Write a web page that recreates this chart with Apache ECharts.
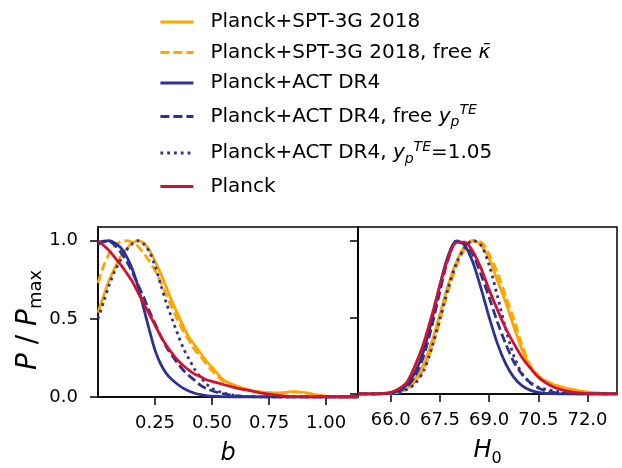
<!DOCTYPE html>
<html>
<head>
<meta charset="utf-8">
<script src="https://cdn.jsdelivr.net/npm/echarts@6/dist/echarts.min.js"></script>
<style>
  html, body { margin: 0; padding: 0; background: #fff; }
  #main { width: 622px; height: 468px; }
</style>
</head>
<body>
<div id="main"></div>
<script>
// series names (legend order)
const names = [
  'Planck+SPT-3G 2018',
  'Planck+SPT-3G 2018, free kappa',
  'Planck+ACT DR4',
  'Planck+ACT DR4, free yp',
  'Planck+ACT DR4, yp=1.05',
  'Planck'
]

// left panel: b
const bVals = [0, 0.025, 0.05, 0.075, 0.1, 0.125, 0.15, 0.175, 0.2, 0.225, 0.25, 0.275, 0.3, 0.325, 0.35, 0.375, 0.4, 0.425, 0.45, 0.475, 0.5, 0.55, 0.6, 0.65, 0.7, 0.75, 0.8, 0.85, 0.9, 0.95, 1.0, 1.05, 1.1, 1.14]
const bSpt      = [0.54, 0.65, 0.75, 0.83, 0.90, 0.95, 0.985, 1.0, 0.985, 0.94, 0.87, 0.79, 0.70, 0.61, 0.53, 0.45, 0.38, 0.33, 0.28, 0.23, 0.19, 0.11, 0.075, 0.05, 0.035, 0.027, 0.026, 0.034, 0.03, 0.017, 0.005, 0.001, 0, 0]
const bSptKappa = [0.73, 0.84, 0.92, 0.97, 0.995, 1.0, 0.99, 0.965, 0.92, 0.87, 0.81, 0.735, 0.65, 0.57, 0.49, 0.42, 0.36, 0.30, 0.26, 0.21, 0.17, 0.10, 0.068, 0.047, 0.034, 0.026, 0.025, 0.032, 0.028, 0.015, 0.004, 0.001, 0, 0]
const bAct      = [0.99, 0.998, 1.0, 0.985, 0.955, 0.90, 0.82, 0.71, 0.57, 0.43, 0.30, 0.21, 0.15, 0.11, 0.08, 0.055, 0.037, 0.024, 0.015, 0.009, 0.005, 0.001, 0, 0, 0, 0, 0, 0, 0, 0, 0, 0, 0, 0]
const bActYp    = [0.975, 0.995, 0.995, 0.97, 0.925, 0.87, 0.80, 0.72, 0.64, 0.55, 0.47, 0.39, 0.32, 0.265, 0.215, 0.17, 0.135, 0.105, 0.075, 0.055, 0.04, 0.02, 0.009, 0.003, 0.001, 0, 0, 0, 0, 0, 0, 0, 0, 0]
const bActYp105 = [0.50, 0.61, 0.72, 0.81, 0.88, 0.94, 0.98, 1.0, 0.98, 0.93, 0.84, 0.72, 0.60, 0.50, 0.40, 0.31, 0.24, 0.175, 0.125, 0.085, 0.055, 0.025, 0.01, 0.004, 0.001, 0, 0, 0, 0, 0, 0, 0, 0, 0]
const bPlanck   = [1.0, 0.97, 0.935, 0.89, 0.845, 0.795, 0.74, 0.67, 0.60, 0.53, 0.46, 0.39, 0.33, 0.28, 0.235, 0.20, 0.17, 0.145, 0.13, 0.11, 0.10, 0.08, 0.06, 0.045, 0.03, 0.018, 0.009, 0.003, 0.001, 0, 0, 0, 0, 0]

// right panel: H0
const hVals = [65.0, 65.25, 65.5, 65.75, 66.0, 66.25, 66.5, 66.75, 67.0, 67.25, 67.5, 67.75, 68.0, 68.25, 68.5, 68.75, 69.0, 69.25, 69.5, 69.75, 70.0, 70.25, 70.5, 70.75, 71.0, 71.25, 71.5, 71.75, 72.0, 72.25, 72.5, 72.75, 72.9]
const hSpt      = [0, 0, 0, 0.001, 0.004, 0.013, 0.04, 0.10, 0.19, 0.34, 0.52, 0.71, 0.86, 0.96, 1.0, 0.97, 0.88, 0.74, 0.60, 0.44, 0.29, 0.18, 0.115, 0.08, 0.058, 0.042, 0.03, 0.02, 0.012, 0.007, 0.003, 0.001, 0]
const hSptKappa = [0, 0, 0, 0.001, 0.003, 0.011, 0.033, 0.08, 0.16, 0.30, 0.48, 0.67, 0.83, 0.94, 0.995, 0.99, 0.91, 0.79, 0.64, 0.49, 0.32, 0.19, 0.12, 0.085, 0.06, 0.043, 0.031, 0.02, 0.012, 0.007, 0.003, 0.001, 0]
const hAct      = [0, 0, 0, 0.002, 0.007, 0.024, 0.063, 0.144, 0.28, 0.48, 0.71, 0.90, 0.997, 0.97, 0.86, 0.69, 0.50, 0.33, 0.20, 0.11, 0.055, 0.025, 0.010, 0.004, 0.001, 0, 0, 0, 0, 0, 0, 0, 0]
const hActYp    = [0, 0, 0, 0.001, 0.005, 0.018, 0.05, 0.12, 0.246, 0.44, 0.67, 0.88, 0.99, 0.984, 0.91, 0.78, 0.63, 0.47, 0.33, 0.21, 0.13, 0.074, 0.039, 0.019, 0.009, 0.004, 0.001, 0, 0, 0, 0, 0, 0]
const hActYp105 = [0, 0, 0, 0, 0.002, 0.009, 0.03, 0.07, 0.15, 0.30, 0.49, 0.69, 0.85, 0.95, 1.0, 0.97, 0.84, 0.64, 0.43, 0.25, 0.135, 0.075, 0.045, 0.03, 0.019, 0.011, 0.005, 0.002, 0.001, 0, 0, 0, 0]
const hPlanck   = [0, 0, 0, 0.003, 0.011, 0.035, 0.08, 0.19, 0.33, 0.51, 0.71, 0.885, 0.987, 0.99, 0.93, 0.82, 0.68, 0.55, 0.43, 0.33, 0.24, 0.17, 0.11, 0.07, 0.042, 0.025, 0.014, 0.007, 0.003, 0.001, 0, 0, 0]

// ticks
const yTicks = [0, 0.5, 1.0]
const bTicks = [0.25, 0.5, 0.75, 1.0]
const hTicks = [66.0, 67.5, 69.0, 70.5, 72.0]

const legendText = {
  'Planck+SPT-3G 2018, free kappa': 'Planck+SPT-3G 2018, free {i|\u03ba\u0304}',
  'Planck+ACT DR4, free yp': 'Planck+ACT DR4, free {y|y}{sub|p}{sup|TE}',
  'Planck+ACT DR4, yp=1.05': 'Planck+ACT DR4, {y|y}{sub|p}{sup|TE}=1.05'
}

const orange = '#FFA500', blue = '#2C3192', red = '#D2112D'
const lw = 2.8
const styles = [
  { color: orange, type: 'solid' },
  { color: orange, type: [9, 4] },
  { color: blue, type: 'solid' },
  { color: blue, type: [9, 4] },
  { color: blue, type: [2.8, 4] },
  { color: red, type: 'solid' }
]

const leftData = [bSpt, bSptKappa, bAct, bActYp, bActYp105, bPlanck]
const rightData = [hSpt, hSptKappa, hAct, hActYp, hActYp105, hPlanck]

const font = 'DejaVu Sans'
const series = []
function addSeries(xs, list, idx) {
  list.forEach((ys, k) => {
    series.push({
      name: names[k],
      type: 'line',
      xAxisIndex: idx,
      yAxisIndex: idx,
      data: xs.map((x, i) => [x, ys[i]]),
      symbol: 'none',
      smooth: 0.3,
      lineStyle: { color: styles[k].color, type: styles[k].type, width: lw, cap: 'butt' },
      itemStyle: { color: styles[k].color },
      z: 2 + k
    })
  })
}
addSeries(bVals, leftData, 0)
addSeries(hVals, rightData, 1)

const tickStyle = { show: true, inside: false, length: 8, lineStyle: { color: '#000', width: 1.5 } }
const labelStyle = { color: '#000', fontFamily: font, fontSize: 18 }

const myChart = echarts.init(document.getElementById('main'), null, { renderer: 'canvas' })
myChart.setOption({
  animation: false,
  textStyle: { fontFamily: font },
  legend: {
    orient: 'vertical',
    left: 159,
    top: 12,
    padding: 0,
    itemWidth: 33,
    itemHeight: 14,
    itemGap: 10.5,
    data: names,
    itemStyle: { opacity: 0 },
    lineStyle: { width: lw },
    formatter: n => legendText[n] || n,
    textStyle: {
      color: '#000', fontFamily: font, fontSize: 20,
      padding: [0, 0, 0, 12],
      rich: {
        i: { fontFamily: font, fontSize: 20, fontStyle: 'italic' },
        y: { fontFamily: font, fontSize: 20, fontStyle: 'italic', lineHeight: 26 },
        sub: { fontFamily: font, fontSize: 14, fontStyle: 'italic', verticalAlign: 'bottom' },
        sup: { fontFamily: font, fontSize: 14, fontStyle: 'italic', verticalAlign: 'top' }
      }
    }
  },
  grid: [
    { left: 98, top: 227, width: 260, height: 170, show: true, borderColor: '#000', borderWidth: 1.5, backgroundColor: 'transparent' },
    { left: 358, top: 227, width: 259, height: 170, show: true, borderColor: '#000', borderWidth: 1.5, backgroundColor: 'transparent' }
  ],
  xAxis: [
    {
      type: 'value', gridIndex: 0, min: 0, max: 1.14,
      axisLine: { show: true, lineStyle: { color: '#000', width: 1.5 } },
      axisTick: Object.assign({ customValues: bTicks }, tickStyle),
      axisLabel: Object.assign({ customValues: bTicks, margin: 17, formatter: v => v.toFixed(2) }, labelStyle),
      splitLine: { show: false },
      name: '{i|b}', nameLocation: 'middle', nameGap: 45,
      nameTextStyle: { rich: { i: { fontFamily: font, fontSize: 24, fontStyle: 'italic', color: '#000' } } }
    },
    {
      type: 'value', gridIndex: 1, min: 65.0, max: 72.9,
      axisLine: { show: true, lineStyle: { color: '#000', width: 1.5 } },
      axisTick: Object.assign({ customValues: hTicks }, tickStyle),
      axisLabel: Object.assign({ customValues: hTicks, margin: 17, formatter: v => v.toFixed(1) }, labelStyle),
      splitLine: { show: false },
      name: '{i|H}{s|0}', nameLocation: 'middle', nameGap: 41,
      nameTextStyle: { rich: {
        i: { fontFamily: font, fontSize: 24, fontStyle: 'italic', color: '#000', lineHeight: 32 },
        s: { fontFamily: font, fontSize: 16, color: '#000', verticalAlign: 'bottom' }
      } }
    }
  ],
  yAxis: [
    {
      type: 'value', gridIndex: 0, min: 0, max: 1.088,
      axisLine: { show: true, lineStyle: { color: '#000', width: 1.5 } },
      axisTick: Object.assign({ customValues: yTicks }, tickStyle),
      axisLabel: Object.assign({ customValues: yTicks, margin: 20, formatter: v => v.toFixed(1) }, labelStyle),
      splitLine: { show: false },
      name: '{i|P}{t| / }{i|P}{s|max}', nameLocation: 'middle', nameRotate: 90, nameGap: 52,
      nameTextStyle: {
        padding: [0, 16, 0, 0],
        rich: {
          i: { fontFamily: font, fontSize: 28, fontStyle: 'italic', color: '#000', lineHeight: 34 },
          t: { fontFamily: font, fontSize: 28, color: '#000' },
          s: { fontFamily: font, fontSize: 18, color: '#000', verticalAlign: 'bottom' }
        }
      }
    },
    {
      type: 'value', gridIndex: 1, min: 0, max: 1.088,
      axisLine: { show: true, lineStyle: { color: '#000', width: 1.5 } },
      axisTick: Object.assign({ customValues: yTicks }, tickStyle),
      axisLabel: { show: false },
      splitLine: { show: false }
    }
  ],
  series: series
})
</script>
</body>
</html>
